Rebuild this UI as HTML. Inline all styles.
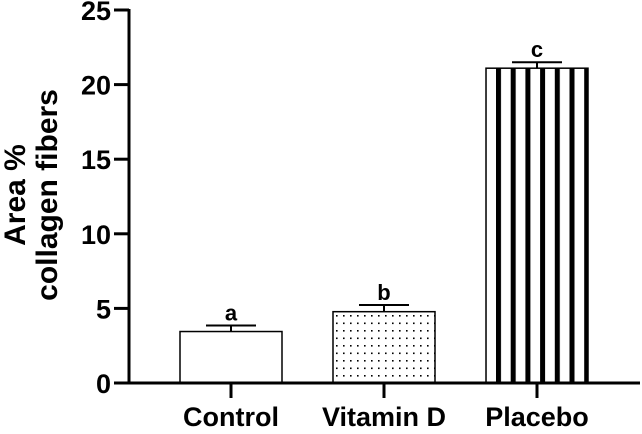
<!DOCTYPE html>
<html><head><meta charset="utf-8"><style>
body{margin:0;background:#fff}
svg text{font-family:"Liberation Sans",Arial,sans-serif;font-weight:bold;fill:#000}
</style></head><body>
<svg id="chart" width="642" height="429" xmlns="http://www.w3.org/2000/svg">
<defs>
<pattern id="dots" width="7" height="7.5" patternUnits="userSpaceOnUse" x="335" y="314">
<rect x="1" y="1" width="1.6" height="1.6" fill="#000"/></pattern>
<pattern id="stripes" width="14.7" height="10" patternUnits="userSpaceOnUse" x="496" y="0">
<rect x="0" y="0" width="5" height="10" fill="#000"/></pattern>
</defs>
<g id="plot"></g>
</svg>
<script>
const categories=["Control","Vitamin D","Placebo"];
const values=[3.45,4.78,21.1];
const errors=[0.4,0.45,0.4];
const letters=["a","b","c"];
const yTicks=[0,5,10,15,20,25];
const fills=["#fff","url(#dots)","url(#stripes)"];
const NS="http://www.w3.org/2000/svg";
const g=document.getElementById('plot');
const y0=383,y1=10,ax=129;
function y(v){return y0-(v/25)*(y0-y1);}
function xc(i){return 231+i*153;}
function mk(t,a){const e=document.createElementNS(NS,t);for(const k in a)e.setAttribute(k,a[k]);g.appendChild(e);return e;}
let ln=mk('line',{x1:ax,y1:y1-1,x2:ax,y2:y0+1.5,stroke:'#000','stroke-width':3});


yTicks.forEach(v=>{
 const t=mk('line',{x1:114,y1:y(v),x2:ax,y2:y(v),stroke:'#000','stroke-width':3});
 
 
 const l=mk('text',{x:111,y:y(v)+10,'text-anchor':'end','font-size':27});
 l.textContent=v;
 
 
});
const w=102;
categories.forEach((c,i)=>{
 const x=xc(i)-w/2,top=y(values[i]);
 const r=mk('rect',{x:x,y:top,width:w,height:y0-top,fill:fills[i],stroke:'#000','stroke-width':1.5});
 
 
 const et=y(values[i]+errors[i]);
 const e1=mk('line',{x1:xc(i),y1:top,x2:xc(i),y2:et,stroke:'#000','stroke-width':2});
 
 
 const e2=mk('line',{x1:xc(i)-25,y1:et,x2:xc(i)+25,y2:et,stroke:'#000','stroke-width':2});
 
 
 const lt=mk('text',{x:xc(i),y:et-5,'text-anchor':'middle','font-size':22});
 lt.textContent=letters[i];
 
 
 const tk=mk('line',{x1:xc(i),y1:y0,x2:xc(i),y2:y0+15,stroke:'#000','stroke-width':3});
 
 
 const xl=mk('text',{x:xc(i),y:426,'text-anchor':'middle','font-size':27});
 xl.textContent=c;
 
 
});
const xa=mk('line',{x1:ax-1.5,y1:y0,x2:640,y2:y0,stroke:'#000','stroke-width':3});


const yt=mk('text',{transform:'translate(0,195) rotate(-90)','text-anchor':'middle','font-size':30});


const s1=document.createElementNS(NS,'tspan');s1.setAttribute('x',0);s1.setAttribute('y',25);s1.textContent='Area %';yt.appendChild(s1);
const s2=document.createElementNS(NS,'tspan');s2.setAttribute('x',0);s2.setAttribute('y',57);s2.textContent='collagen fibers';yt.appendChild(s2);
</script>
</body></html>
